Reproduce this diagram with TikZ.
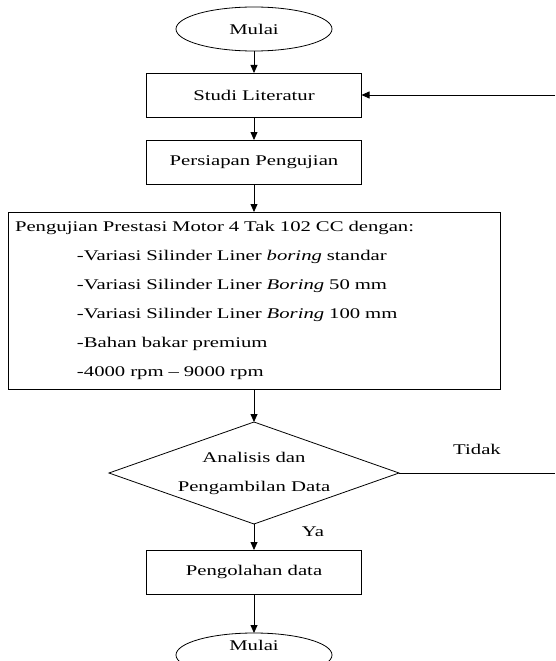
\documentclass[tikz,border=0pt]{standalone}
\usepackage{fontspec}
\setmainfont[FakeStretch=1.4]{Liberation Serif}
\usetikzlibrary{positioning,shapes.geometric,arrows.meta}

\tikzset{
    terminal/.style={ellipse, draw, minimum width=156pt, minimum height=44pt, inner sep=0pt, outer sep=0pt},
    proses/.style={rectangle, draw, minimum width=215pt, minimum height=44pt, inner sep=0pt, outer sep=0pt},
    prosesbesar/.style={rectangle, draw, text width=478pt, minimum height=177pt, inner xsep=7pt, inner ysep=0pt, outer sep=0pt, align=left},
    keputusan/.style={diamond, draw, minimum width=290pt, minimum height=102pt, inner sep=0pt, outer sep=0pt},
    panah/.style={-{Triangle[length=8pt,width=7pt]}},
}

\begin{document}
\begin{tikzpicture}[x=1pt, y=1pt, line width=0.8pt, node distance=22pt,
    font=\fontsize{14.8}{29}\selectfont]
    \useasboundingbox (0,0) rectangle (555,-661);
    \clip (0,0) rectangle (555,-661);
    \node[terminal] (mulai) at (254,-29) {Mulai};
    \node[proses, below=22pt of mulai] (studi) {Studi Literatur};
    \node[proses, below=23pt of studi] (persiapan) {Persiapan Pengujian};
    \node[prosesbesar, below=28pt of persiapan] (pengujian) {Pengujian Prestasi Motor 4 Tak 102 CC dengan:\\
        \hspace*{62pt}-Variasi Silinder Liner \textit{boring} standar\\
        \hspace*{62pt}-Variasi Silinder Liner \textit{Boring} 50 mm\\
        \hspace*{62pt}-Variasi Silinder Liner \textit{Boring} 100 mm\\
        \hspace*{62pt}-Bahan bakar premium\\
        \hspace*{62pt}-4000 rpm -- 9000 rpm};
    \node[keputusan, below=33pt of pengujian] (analisis) {};
    \node[align=center] (analisisteks) at (analisis) {Analisis dan\\Pengambilan Data};
    \node[proses, below=26pt of analisis] (pengolahan) {Pengolahan data};
    \node[terminal, below=39pt of pengolahan] (selesai) {};
    \node (selesaiteks) at ([yshift=10pt]selesai.center) {Mulai};
    \coordinate (tepi) at (555,0);
    % alur utama
    \draw[panah] (mulai) -- (studi);
    \draw[panah] (studi) -- (persiapan);
    \draw[panah] (persiapan) -- (pengujian);
    \draw[panah] (pengujian) -- (analisis);
    \draw[panah] (analisis) -- (pengolahan);
    \draw[panah] (pengolahan) -- (selesai);
    % kembali ke studi literatur
    \draw (analisis.east) -- (analisis.east -| tepi);
    \draw[panah] (studi.east -| tepi) -- (studi.east);
    \node (tidak) at (477,-449) {Tidak};
    \node (ya) at (313,-532) {Ya};
\end{tikzpicture}
\end{document}
